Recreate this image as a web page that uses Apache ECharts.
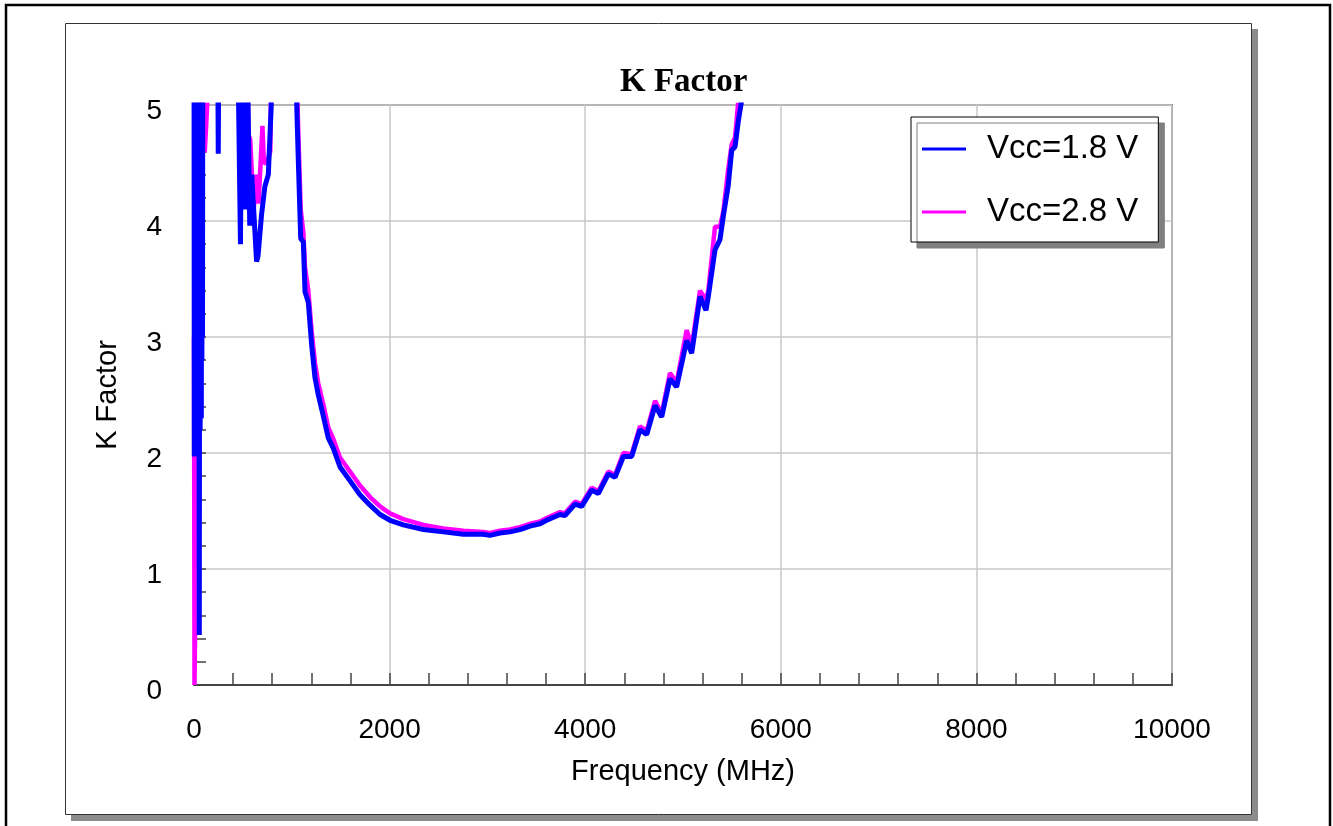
<!DOCTYPE html>
<html>
<head>
<meta charset="utf-8">
<script src="https://cdn.jsdelivr.net/npm/echarts@6/dist/echarts.min.js"></script>
<style>
html,body{margin:0;padding:0;background:#fff;}
#chart{width:1333px;height:826px;}
</style>
</head>
<body>
<div id="chart"></div>
<script>
// ---------- data (frequency in MHz, K factor) ----------
const seriesNames = ['Vcc=1.8 V', 'Vcc=2.8 V'];
const xTicks = [0, 2000, 4000, 6000, 8000, 10000];
const yTicks = [0, 1, 2, 3, 4, 5];

// Vcc=1.8 V : low-frequency (unstable) region
const blueLowFreq = [0,3,6,9,12,15,18,21,24,27,30,33,36,39,42,45,48,54,60,63,66,69,72,75,78,81,84,87,90,93,
  240,248,256,
  440,475,495,525,545,570,590,610,640,655,690,725,760,790,810,1040];
const blueLowK = [6,1.97,6,2.1,6,1.97,6,2.3,6,2.0,6,2.2,6,2.1,6,2.4,6,0.43,6,2.2,6,2.5,6,2.3,6,2.8,6,3.0,6,6,
  6,4.58,6,
  6,3.8,6,4.1,5.5,3.96,4.4,4.1,3.65,3.7,4.05,4.3,4.4,5.0,6,6];

// Vcc=2.8 V : low-frequency region
const pinkLowFreq = [0,5,12,20,30,40,50,60,70,100,110,135,140,
  450,540,555,575,610,640,660,700,715,745,780,800,1040];
const pinkLowK = [3,0,0.5,6,6,3,6,2.5,6,6,4.59,5.0,6,
  6,6,4.75,4.7,4.1,4.4,4.15,4.82,4.5,4.5,4.6,6,6];

// main curve frequencies (shared)
const mainFreq = [1050,1067,1091,1118,1135,1169,1203,1237,1271,1322,1373,1425,1493,1527,1612,1697,
  1800,1902,2004,2140,2345,2549,2754,2955,3027,3129,3231,3333,3436,3538,3606,3742,3793,3896,3964,
  4066,4134,4237,4305,4390,4475,4560,4629,4714,4782,4867,4935,5038,5089,5174,5235,5259,5327,5378,
  5412,5463,5498,5532,5567,5600,5620];
const blueMainK = [5.01,4.51,3.85,3.82,3.39,3.30,2.93,2.65,2.50,2.32,2.13,2.04,1.88,1.84,1.74,1.64,
  1.55,1.47,1.42,1.38,1.34,1.32,1.30,1.30,1.29,1.31,1.32,1.34,1.37,1.39,1.42,1.47,1.46,1.56,1.54,
  1.68,1.65,1.82,1.79,1.97,1.97,2.20,2.16,2.41,2.31,2.64,2.57,2.97,2.86,3.35,3.23,3.35,3.75,3.84,
  4.04,4.31,4.61,4.64,4.87,5.04,5.6];
const pinkMainK = [5.3,4.75,4.10,3.90,3.60,3.40,3.05,2.78,2.60,2.42,2.22,2.12,1.96,1.92,1.82,1.72,
  1.62,1.54,1.48,1.43,1.38,1.35,1.33,1.32,1.31,1.33,1.34,1.36,1.39,1.41,1.44,1.49,1.48,1.58,1.56,
  1.70,1.67,1.84,1.81,2.00,1.99,2.23,2.19,2.45,2.34,2.69,2.61,3.06,2.92,3.40,3.32,3.40,3.95,3.95,
  4.08,4.45,4.66,4.72,5.05,5.2,5.8];

function pairs(fs, ks) { return fs.map((f, i) => [f, ks[i]]); }
const blueData = pairs(blueLowFreq, blueLowK).concat(pairs(mainFreq, blueMainK));
const pinkData = pairs(pinkLowFreq, pinkLowK).concat(pairs(mainFreq, pinkMainK));

// ---------- chart ----------
const FONT = "'Liberation Sans', Arial, sans-serif";
const chart = echarts.init(document.getElementById('chart'), null, {renderer: 'canvas'});
chart.setOption({
  backgroundColor: '#ffffff',
  animation: false,
  graphic: [
    {type: 'rect', z: -30, silent: true, shape: {x: 6, y: 5, width: 1324, height: 840},
      style: {fill: '#ffffff', stroke: '#000000', lineWidth: 2.5}},
    {type: 'rect', z: -20, silent: true, shape: {x: 71, y: 29, width: 1187, height: 792},
      style: {fill: '#8c8c8c'}},
    {type: 'rect', z: -10, silent: true, shape: {x: 65.5, y: 23.5, width: 1186, height: 791},
      style: {fill: '#ffffff', stroke: '#333333', lineWidth: 1}}
  ],
  title: {
    text: 'K Factor',
    left: 615, top: 61,
    textStyle: {fontFamily: "'Liberation Serif', 'Times New Roman', serif", fontWeight: 'bold', fontSize: 33, color: '#000'}
  },
  legend: {
    data: seriesNames,
    orient: 'vertical',
    left: 911, top: 117,
    padding: [14, 20, 12, 11],
    itemGap: 27,
    itemWidth: 44,
    itemHeight: 3,
    icon: 'rect',
    backgroundColor: '#ffffff',
    borderColor: '#000000',
    borderWidth: 1,
    shadowColor: '#808080',
    shadowBlur: 0,
    shadowOffsetX: 6,
    shadowOffsetY: 6,
    textStyle: {fontFamily: FONT, fontSize: 33, color: '#000', lineHeight: 36, padding: [0, 0, 0, 16]}
  },
  grid: {
    left: 194, top: 105, right: 161, bottom: 141,
    show: true, borderColor: '#808080', borderWidth: 2, backgroundColor: 'transparent'
  },
  xAxis: {
    type: 'value', min: xTicks[0], max: xTicks[xTicks.length - 1], interval: 2000,
    name: 'Frequency (MHz)', nameLocation: 'middle', nameGap: 72,
    nameTextStyle: {fontFamily: FONT, fontSize: 29, color: '#000'},
    axisLine: {show: true, lineStyle: {color: '#444', width: 2}},
    axisTick: {show: true, inside: true, length: 12, lineStyle: {color: '#444', width: 1.5}},
    minorTick: {show: true, splitNumber: 5, length: 12, lineStyle: {color: '#444', width: 1.5}},
    axisLabel: {fontFamily: FONT, fontSize: 28, color: '#000', margin: 31,
      formatter: v => String(v)},
    splitLine: {show: true, lineStyle: {color: '#c8c8c8', width: 1.5}}
  },
  yAxis: {
    type: 'value', min: yTicks[0], max: yTicks[yTicks.length - 1], interval: 1,
    name: 'K Factor', nameLocation: 'middle', nameGap: 72, nameRotate: 90,
    nameTextStyle: {fontFamily: FONT, fontSize: 29, color: '#000'},
    axisLine: {show: true, lineStyle: {color: '#444', width: 2}},
    axisTick: {show: true, inside: true, length: 12, lineStyle: {color: '#444', width: 1.5}},
    minorTick: {show: true, splitNumber: 5, length: 12, lineStyle: {color: '#444', width: 1.5}},
    axisLabel: {fontFamily: FONT, fontSize: 28, color: '#000', margin: 32,
      verticalAlign: 'top', lineHeight: 12},
    splitLine: {show: true, lineStyle: {color: '#c8c8c8', width: 1.5}}
  },
  series: [
    {
      name: seriesNames[1], type: 'line', data: pinkData, symbol: 'none', clip: true,
      lineStyle: {color: '#ff00ff', width: 4.5}, itemStyle: {color: '#ff00ff'}, z: 3
    },
    {
      name: seriesNames[0], type: 'line', data: blueData, symbol: 'none', clip: true,
      lineStyle: {color: '#0000ff', width: 5}, itemStyle: {color: '#0000ff'}, z: 4
    }
  ]
});
</script>
</body>
</html>
